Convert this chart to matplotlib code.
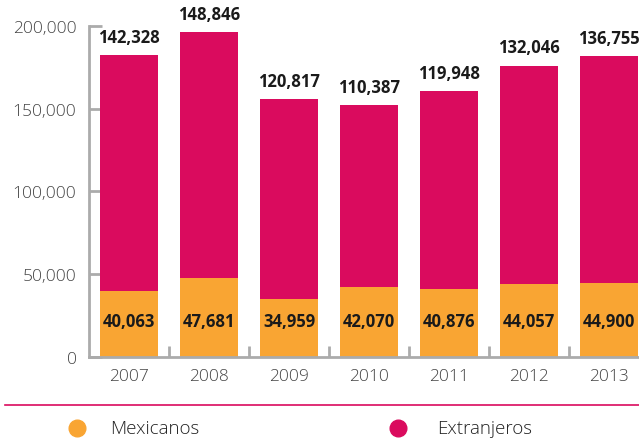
import matplotlib
matplotlib.use("Agg")
import matplotlib.pyplot as plt
from matplotlib.lines import Line2D

years = ["2007", "2008", "2009", "2010", "2011", "2012", "2013"]
mexicanos = [40063, 47681, 34959, 42070, 40876, 44057, 44900]
extranjeros = [142328, 148846, 120817, 110387, 119948, 132046, 136755]
yticks = [0, 50000, 100000, 150000, 200000]

orange = "#F9A533"
magenta = "#DA0B5E"
gray = "#ABABAB"

plt.rcParams["font.family"] = ["Open Sans", "DejaVu Sans"]

fig = plt.figure(figsize=(6.39, 4.39), dpi=100)
ax = fig.add_axes([89 / 639, (439 - 358) / 439, 1 - 89 / 639, 331 / 439])

x = list(range(len(years)))
w = 0.725
ax.bar(x, mexicanos, width=w, color=orange, zorder=2)
ax.bar(x, extranjeros, width=w, bottom=mexicanos, color=magenta, zorder=2)

# value labels: foreigners above the bar, nationals inside the orange part
for i in x:
    total = mexicanos[i] + extranjeros[i]
    ax.text(i, total + 5500, f"{extranjeros[i]:,}", ha="center", va="bottom",
            fontsize=12, fontweight="bold", color="#1a1a1a")
    ax.text(i, 21500, f"{mexicanos[i]:,}", ha="center", va="center",
            fontsize=12, fontweight="bold", color="#1a1a1a")

ax.set_xlim(-0.5, 6.375)
ax.set_ylim(0, 200000)
ax.set_yticks(yticks)
ax.set_yticklabels([f"{v:,}" for v in yticks], fontweight="light")
ax.set_xticks(x)
ax.set_xticklabels(years, fontweight="light")
ax.set_xticks([i + 0.5 for i in x[:-1]], minor=True)

for s in ["top", "right"]:
    ax.spines[s].set_visible(False)
for s in ["left", "bottom"]:
    ax.spines[s].set_color(gray)
    ax.spines[s].set_linewidth(2)

ax.tick_params(axis="y", direction="in", length=9, width=2, color=gray,
               labelsize=12.5, labelcolor="#444444", pad=9)
ax.tick_params(axis="x", which="major", length=0, labelsize=12.5,
               labelcolor="#444444", pad=8)
ax.tick_params(axis="x", which="minor", direction="in", length=8, width=2,
               color=gray)

# legend area below the chart
fig.add_artist(Line2D([5 / 639, 1], [1 - 406 / 439] * 2, color=magenta, lw=1.2))
fig.add_artist(Line2D([77 / 639], [1 - 429 / 439], marker="o", markersize=12,
                      color=orange, linestyle=""))
fig.add_artist(Line2D([398 / 639], [1 - 429 / 439], marker="o", markersize=12,
                      color=magenta, linestyle=""))
fig.text(110 / 639, 1 - 429 / 439, "Mexicanos", fontsize=13.5, color="#222222",
         va="center", fontweight="light")
fig.text(437 / 639, 1 - 429 / 439, "Extranjeros", fontsize=13.5, color="#222222",
         va="center", fontweight="light")

fig.savefig("out.png", dpi=100)
